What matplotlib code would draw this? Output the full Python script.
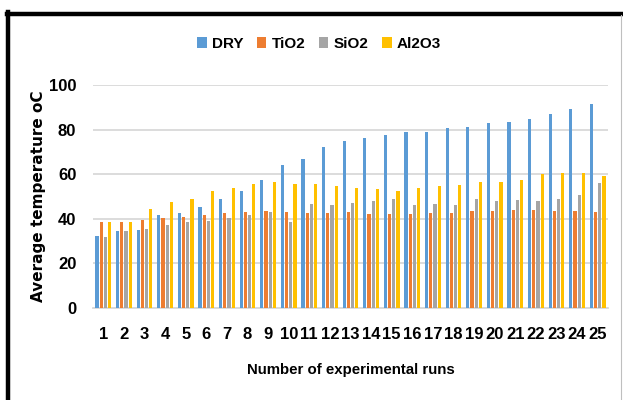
import matplotlib
matplotlib.use("Agg")
import matplotlib.pyplot as plt
import matplotlib.lines as mlines
import numpy as np
from matplotlib import font_manager

runs = list(range(1, 26))
dry = [32.5, 34.5, 34.9, 41.8, 42.5, 45.4, 48.7, 52.5, 57.5, 64.0,
       66.9, 72.1, 74.9, 76.1, 77.5, 78.7, 78.7, 80.6, 81.3, 83.0,
       83.3, 84.8, 87.2, 89.1, 91.5]
tio2 = [38.4, 38.7, 39.6, 40.3, 41.0, 41.8, 42.5, 43.0, 43.4, 43.0,
        42.5, 42.5, 43.0, 42.2, 42.2, 42.2, 42.5, 42.5, 43.3, 43.7,
        44.0, 44.0, 43.7, 43.3, 43.0]
sio2 = [31.8, 34.5, 35.5, 37.3, 38.4, 39.1, 40.3, 41.5, 43.0, 38.7,
        46.7, 46.4, 47.2, 48.1, 49.1, 46.1, 46.7, 46.4, 49.1, 48.1,
        48.4, 48.1, 48.8, 50.7, 56.1]
al2o3 = [38.7, 38.7, 44.5, 47.6, 49.1, 52.5, 53.9, 55.7, 56.4, 55.7,
         55.7, 54.5, 53.9, 53.4, 52.5, 53.9, 54.5, 55.2, 56.4, 56.7,
         57.5, 59.9, 60.4, 60.4, 59.4]

series = [("DRY", dry, "#5B9BD5"), ("TiO2", tio2, "#ED7D31"),
          ("SiO2", sio2, "#A5A5A5"), ("Al2O3", al2o3, "#FFC000")]

installed = {f.name for f in font_manager.fontManager.ttflist}
narrow = "Liberation Sans Narrow" if "Liberation Sans Narrow" in installed else "Liberation Sans"
fam = [narrow, "DejaVu Sans"]

fig = plt.figure(figsize=(6.23, 4.0), dpi=100)

# outer frame: heavy black on left/top, thin grey on right
fig.add_artist(mlines.Line2D([8/623, 8/623], [0, 1 - 12/400], color="black", lw=3.2,
                             transform=fig.transFigure))
fig.add_artist(mlines.Line2D([6.5/623, 1], [1 - 14/400, 1 - 14/400], color="black", lw=3.2,
                             transform=fig.transFigure))
fig.add_artist(mlines.Line2D([621/623, 621/623], [0, 1 - 15/400], color="#BFBFBF", lw=0.8,
                             transform=fig.transFigure))

ax = fig.add_axes([93/623, 1 - 308/400, 515/623, 223/400])

x = np.array(runs)
step = 0.205
width = 0.16
for i, (name, vals, col) in enumerate(series):
    ax.bar(x + (i - 1.5) * step, vals, width, color=col, label=name, zorder=3)

ax.set_xlim(0.5, 25.5)
ax.set_ylim(0, 100)
ax.set_yticks(range(0, 101, 20))
ax.set_xticks(runs)
ax.set_xticklabels([str(r) for r in runs])
ax.yaxis.grid(True, color="#D9D9D9", lw=1.3, zorder=0)
for s in ["left", "right", "top"]:
    ax.spines[s].set_visible(False)
ax.spines["bottom"].set_color("#D9D9D9")
ax.spines["bottom"].set_linewidth(1.3)
ax.tick_params(length=0)
ax.tick_params(axis="y", pad=12)
ax.tick_params(axis="x", pad=14)
for lab in ax.get_xticklabels() + ax.get_yticklabels():
    lab.set_family(fam)
    lab.set_fontweight("bold")
    lab.set_fontsize(12)

ax.set_xlabel("Number of experimental runs", family=fam, fontweight="bold",
              fontsize=10.8, labelpad=15)
ax.set_ylabel("Average temperature oC", family=["DejaVu Sans"], fontweight="bold",
              fontsize=11, labelpad=2)

leg = fig.legend(loc="center", bbox_to_anchor=(319/623, 1 - 44/400), ncol=4, frameon=False,
                 prop={"family": fam, "weight": "bold", "size": 11},
                 handlelength=0.65, handleheight=0.7, handletextpad=0.35, columnspacing=0.85)

fig.savefig("out.png", dpi=100)
